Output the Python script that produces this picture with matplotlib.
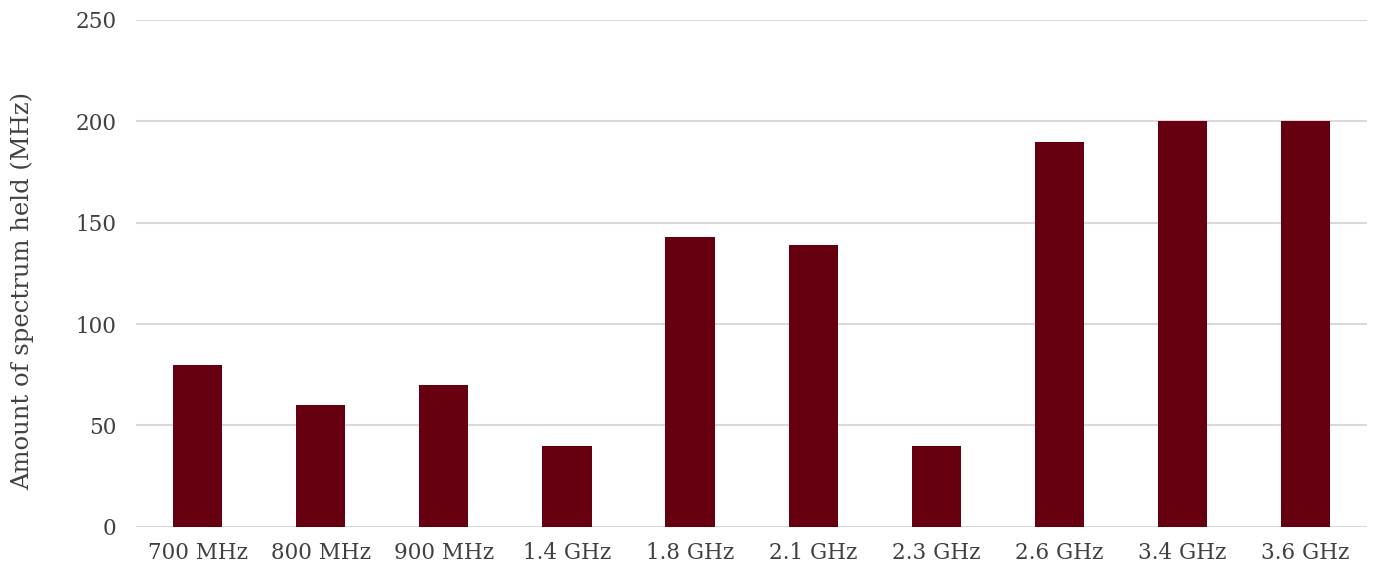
import matplotlib
matplotlib.use("Agg")
import matplotlib.pyplot as plt
import numpy as np

bands = ["700 MHz", "800 MHz", "900 MHz", "1.4 GHz", "1.8 GHz",
         "2.1 GHz", "2.3 GHz", "2.6 GHz", "3.4 GHz", "3.6 GHz"]
spectrum_held = [80, 60, 70, 40, 143, 139, 40, 190, 200, 200]
y_ticks = [0, 50, 100, 150, 200, 250]

plt.rcParams["font.family"] = ["DejaVu Serif"]

fig = plt.figure(figsize=(13.74, 5.69), dpi=100)
ax = fig.add_axes([0.099, 0.074, 0.896, 0.891])

x = np.arange(len(bands))
ax.bar(x, spectrum_held, width=0.4, color="#660010", zorder=3)

ax.set_xlim(-0.5, len(bands) - 0.5)
ax.set_ylim(0, 250)
ax.set_yticks(y_ticks)
ax.set_xticks(x)
ax.set_xticklabels(bands)

ax.grid(axis="y", color="#d9d9d9", linewidth=1.5, zorder=0)
for s in ax.spines.values():
    s.set_visible(False)
ax.tick_params(axis="both", length=0, labelsize=15.5, colors="#404040")
ax.tick_params(axis="y", pad=14)
ax.tick_params(axis="x", pad=11)

ax.set_ylabel("Amount of spectrum held (MHz)", fontsize=17.5, color="#404040")
ax.yaxis.set_label_coords(-0.083, 0.465)

fig.savefig("out.png", dpi=100)
